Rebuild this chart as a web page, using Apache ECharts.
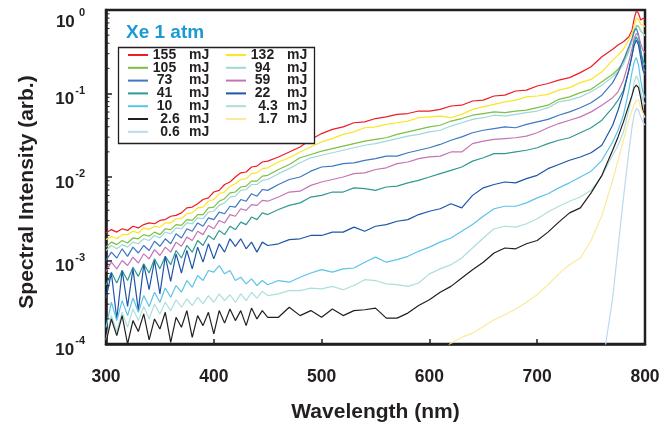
<!DOCTYPE html>
<html>
<head>
<meta charset="utf-8">
<script src="https://cdn.jsdelivr.net/npm/echarts@6/dist/echarts.min.js"></script>
<style>
html,body{margin:0;padding:0;background:#fff;}
#chart{width:671px;height:434px;}
</style>
</head>
<body>
<div id="chart"></div>
<script>
// Wavelength grid (nm)
const wavelengths = [300,305,310,315,320,325,330,335,340,345,350,355,360,365,370,375,380,385,390,395,400,405,410,415,420,425,430,435,440,445,450,
  460,470,480,490,500,510,520,530,540,550,560,570,580,590,600,610,620,630,640,650,660,670,680,690,700,710,720,730,740,750,760,770,
  775,780,785,788,790,792,794,796,798,800];

// log10 of spectral intensity (arb.), one array per pulse energy
const log155 = [-2.67,-2.63,-2.66,-2.62,-2.64,-2.59,-2.61,-2.57,-2.55,-2.56,-2.52,-2.51,-2.47,-2.46,-2.43,-2.37,-2.36,-2.32,-2.27,-2.25,-2.18,-2.16,-2.09,-2.06,-2.00,-1.95,-1.94,-1.88,-1.87,-1.82,-1.81,
  -1.76,-1.70,-1.64,-1.55,-1.48,-1.43,-1.40,-1.35,-1.34,-1.30,-1.28,-1.25,-1.24,-1.21,-1.21,-1.19,-1.15,-1.14,-1.09,-1.08,-1.03,-1.02,-0.97,-0.96,-0.91,-0.88,-0.84,-0.81,-0.75,-0.68,-0.56,-0.47,
  -0.42,-0.38,-0.32,-0.24,-0.10,-0.01,-0.04,-0.12,-0.10,-0.11];
const log132 = [-2.75,-2.71,-2.74,-2.69,-2.69,-2.65,-2.67,-2.61,-2.63,-2.59,-2.60,-2.55,-2.55,-2.50,-2.50,-2.44,-2.43,-2.37,-2.36,-2.29,-2.27,-2.20,-2.18,-2.11,-2.08,-2.03,-2.02,-1.96,-1.95,-1.90,-1.89,
  -1.82,-1.77,-1.70,-1.64,-1.58,-1.54,-1.49,-1.46,-1.41,-1.40,-1.37,-1.35,-1.33,-1.29,-1.28,-1.27,-1.29,-1.25,-1.19,-1.16,-1.13,-1.10,-1.08,-1.04,-1.03,-1.01,-0.96,-0.93,-0.87,-0.83,-0.74,-0.60,
  -0.54,-0.47,-0.36,-0.28,-0.18,-0.10,-0.11,-0.17,-0.18,-0.20];
const log105 = [-2.84,-2.78,-2.81,-2.76,-2.79,-2.73,-2.74,-2.69,-2.71,-2.66,-2.69,-2.62,-2.63,-2.57,-2.58,-2.51,-2.52,-2.45,-2.45,-2.37,-2.36,-2.29,-2.26,-2.19,-2.18,-2.12,-2.11,-2.05,-2.05,-1.99,-1.98,
  -1.91,-1.85,-1.77,-1.73,-1.69,-1.66,-1.63,-1.60,-1.57,-1.55,-1.53,-1.49,-1.46,-1.43,-1.40,-1.38,-1.33,-1.30,-1.26,-1.24,-1.22,-1.23,-1.21,-1.20,-1.17,-1.14,-1.07,-1.04,-0.99,-0.95,-0.86,-0.77,
  -0.71,-0.62,-0.48,-0.36,-0.26,-0.19,-0.20,-0.25,-0.28,-0.30];
const log94 = [-2.88,-2.82,-2.86,-2.81,-2.84,-2.78,-2.80,-2.74,-2.76,-2.70,-2.73,-2.66,-2.68,-2.61,-2.62,-2.55,-2.56,-2.49,-2.50,-2.42,-2.41,-2.34,-2.31,-2.24,-2.23,-2.16,-2.15,-2.09,-2.09,-2.04,-2.03,
  -1.96,-1.90,-1.83,-1.77,-1.74,-1.71,-1.68,-1.65,-1.62,-1.60,-1.57,-1.54,-1.51,-1.49,-1.46,-1.44,-1.39,-1.35,-1.31,-1.29,-1.26,-1.27,-1.25,-1.23,-1.21,-1.17,-1.10,-1.08,-1.04,-0.98,-0.90,-0.80,
  -0.74,-0.65,-0.50,-0.36,-0.24,-0.18,-0.19,-0.25,-0.28,-0.31];
const log73 = [-3.00,-2.90,-2.97,-2.86,-2.95,-2.84,-2.91,-2.82,-2.88,-2.77,-2.83,-2.74,-2.80,-2.68,-2.73,-2.62,-2.65,-2.55,-2.59,-2.49,-2.51,-2.42,-2.44,-2.35,-2.36,-2.27,-2.29,-2.20,-2.23,-2.15,-2.16,
  -2.09,-2.03,-2.00,-1.93,-1.88,-1.87,-1.84,-1.83,-1.80,-1.78,-1.75,-1.75,-1.71,-1.68,-1.65,-1.61,-1.56,-1.52,-1.47,-1.44,-1.42,-1.40,-1.41,-1.37,-1.34,-1.31,-1.26,-1.22,-1.17,-1.11,-1.02,-0.87,
  -0.75,-0.60,-0.44,-0.34,-0.25,-0.22,-0.30,-0.48,-0.66,-0.74];
const log59 = [-3.13,-3.02,-3.10,-3.00,-3.06,-2.96,-3.03,-2.92,-2.98,-2.87,-2.94,-2.84,-2.90,-2.78,-2.83,-2.72,-2.76,-2.65,-2.69,-2.58,-2.62,-2.52,-2.55,-2.45,-2.47,-2.38,-2.40,-2.33,-2.34,-2.28,-2.29,
  -2.24,-2.18,-2.17,-2.10,-2.06,-2.03,-2.00,-1.96,-1.95,-1.91,-1.89,-1.84,-1.82,-1.78,-1.76,-1.75,-1.70,-1.70,-1.60,-1.57,-1.55,-1.54,-1.53,-1.51,-1.47,-1.41,-1.36,-1.32,-1.28,-1.22,-1.14,-1.05,
  -0.98,-0.84,-0.62,-0.46,-0.34,-0.28,-0.31,-0.40,-0.48,-0.51];
const log41 = [-3.30,-3.14,-3.27,-3.12,-3.24,-3.08,-3.19,-3.04,-3.15,-2.98,-3.10,-2.95,-3.05,-2.88,-2.97,-2.82,-2.90,-2.76,-2.82,-2.70,-2.75,-2.64,-2.69,-2.59,-2.63,-2.54,-2.57,-2.48,-2.51,-2.43,-2.45,
  -2.39,-2.34,-2.31,-2.24,-2.22,-2.18,-2.18,-2.13,-2.14,-2.16,-2.12,-2.11,-2.07,-2.04,-2.00,-1.96,-1.92,-1.88,-1.81,-1.77,-1.72,-1.72,-1.70,-1.68,-1.65,-1.60,-1.56,-1.53,-1.47,-1.41,-1.32,-1.17,
  -1.08,-0.96,-0.72,-0.54,-0.38,-0.32,-0.38,-0.50,-0.60,-0.66];
const log22 = [-3.45,-3.15,-3.70,-3.12,-3.55,-3.10,-3.60,-3.05,-3.35,-3.00,-3.40,-2.95,-3.25,-2.92,-3.15,-2.88,-3.10,-2.84,-3.02,-2.80,-2.98,-2.80,-2.90,-2.74,-2.83,-2.74,-2.86,-2.78,-2.90,-2.78,-2.82,
  -2.80,-2.75,-2.74,-2.70,-2.70,-2.66,-2.66,-2.60,-2.65,-2.59,-2.57,-2.53,-2.51,-2.45,-2.41,-2.38,-2.32,-2.37,-2.22,-2.13,-2.09,-2.06,-2.07,-2.02,-1.98,-1.90,-1.85,-1.80,-1.76,-1.71,-1.62,-1.38,
  -1.20,-0.99,-0.72,-0.54,-0.42,-0.36,-0.42,-0.57,-0.72,-0.78];
const log10mJ = [-3.80,-3.50,-3.72,-3.48,-3.66,-3.45,-3.62,-3.42,-3.55,-3.38,-3.50,-3.33,-3.44,-3.30,-3.38,-3.24,-3.32,-3.18,-3.24,-3.12,-3.14,-3.06,-3.16,-3.12,-3.24,-3.20,-3.28,-3.22,-3.30,-3.24,-3.29,
  -3.24,-3.26,-3.20,-3.15,-3.11,-3.14,-3.10,-3.09,-3.02,-2.96,-3.02,-2.99,-2.95,-2.89,-2.84,-2.78,-2.73,-2.65,-2.57,-2.47,-2.38,-2.35,-2.35,-2.31,-2.25,-2.20,-2.13,-2.07,-2.00,-1.93,-1.80,-1.58,
  -1.44,-1.26,-0.96,-0.74,-0.62,-0.57,-0.66,-0.84,-0.98,-1.05];
const log4p3 = [-3.95,-3.66,-3.85,-3.62,-3.80,-3.58,-3.72,-3.55,-3.70,-3.52,-3.64,-3.50,-3.60,-3.47,-3.56,-3.46,-3.54,-3.44,-3.52,-3.42,-3.50,-3.40,-3.48,-3.41,-3.50,-3.40,-3.48,-3.38,-3.45,-3.37,-3.42,
  -3.40,-3.36,-3.36,-3.33,-3.34,-3.31,-3.35,-3.30,-3.23,-3.24,-3.28,-3.29,-3.31,-3.27,-3.16,-3.10,-3.05,-2.97,-2.85,-2.73,-2.62,-2.59,-2.60,-2.56,-2.50,-2.42,-2.35,-2.29,-2.24,-2.16,-1.99,-1.74,
  -1.62,-1.46,-1.20,-1.02,-0.86,-0.79,-0.84,-0.98,-1.08,-1.13];
const log2p6 = [-3.98,-3.70,-3.90,-3.66,-4.00,-3.72,-3.85,-3.64,-3.95,-3.70,-3.82,-3.62,-3.98,-3.68,-3.80,-3.60,-3.92,-3.66,-3.78,-3.62,-3.88,-3.60,-3.75,-3.58,-3.72,-3.60,-3.78,-3.57,-3.70,-3.60,-3.68,
  -3.68,-3.56,-3.66,-3.60,-3.68,-3.58,-3.66,-3.60,-3.59,-3.57,-3.69,-3.69,-3.63,-3.54,-3.47,-3.38,-3.31,-3.21,-3.11,-3.02,-2.91,-2.85,-2.86,-2.80,-2.76,-2.66,-2.54,-2.43,-2.37,-2.19,-1.98,-1.68,
  -1.52,-1.34,-1.14,-1.02,-0.93,-0.90,-0.93,-1.05,-1.20,-1.27];
// these two only rise above 1e-4 near the long-wavelength end; they start at the given wavelength
const start1p7 = 610;
const log1p7 = [-4.10,-3.99,-3.92,-3.87,-3.79,-3.71,-3.65,-3.58,-3.50,-3.41,-3.29,-3.16,-3.05,-2.97,-2.76,-2.46,-2.04,
  -1.80,-1.56,-1.32,-1.20,-1.13,-1.08,-1.08,-1.17,-1.23,-1.29];
const start0p6 = 760;
const log0p6 = [-4.30,-3.45,-2.85,-2.25,-1.70,-1.40,-1.25,-1.18,-1.20,-1.28,-1.34,-1.38];

const seriesNames = ['155 mJ','132 mJ','105 mJ','94 mJ','73 mJ','59 mJ','41 mJ','22 mJ','10 mJ','4.3 mJ','2.6 mJ','1.7 mJ','0.6 mJ'];
const seriesLogs = [log155,log132,log105,log94,log73,log59,log41,log22,log10mJ,log4p3,log2p6,log1p7,log0p6];
const seriesStarts = [300,300,300,300,300,300,300,300,300,300,300,start1p7,start0p6];
const seriesColors = ['#ee1c25','#fbe625','#7cbf45','#a0d8d8','#3c78c4','#c673b6','#2f9a93','#1e55a9','#5cc3ea','#acdfdb','#231f20','#fce99b','#bcd9ef'];

const legendCol1 = ['155 mJ','105 mJ','73 mJ','41 mJ','10 mJ','2.6 mJ','0.6 mJ'];
const legendCol2 = ['132 mJ','94 mJ','59 mJ','22 mJ','4.3 mJ','1.7 mJ'];

const yTickExponents = [0,-1,-2,-3,-4];
const xTickLabels = [300,400,500,600,700,800];
const minorMultipliers = [2,3,4,5,6,7,8,9];
const minorDecades = [-4,-3,-2,-1];

const FONT = '"Liberation Sans", Arial, Helvetica, sans-serif';
const INK = '#231f20';

const lineSeries = seriesNames.map((name, i) => {
  const offset = wavelengths.indexOf(seriesStarts[i]);
  return {
    name: name,
    type: 'line',
    showSymbol: false,
    symbol: 'none',
    clip: true,
    z: 2,
    lineStyle: { width: 1.2, color: seriesColors[i] },
    itemStyle: { color: seriesColors[i] },
    data: seriesLogs[i].map((lv, k) => [wavelengths[offset + k], Math.pow(10, lv)])
  };
});

const minorTickData = [];
minorDecades.forEach(d => minorMultipliers.forEach(m => minorTickData.push([300, m * Math.pow(10, d)])));

const legendFormatter = function (name) {
  const num = name.replace(' mJ', '');
  if (num.indexOf('.') >= 0) return '{d|' + num + '}{v|mJ}';
  return '{i|' + num + '}{u|mJ}';
};
const LF = { fontSize: 14, fontWeight: 'bold', fontFamily: FONT, color: INK, lineHeight: 12.6 };
const legendRich = {
  i: Object.assign({ width: 23, align: 'right' }, LF),
  d: Object.assign({ width: 34, align: 'right' }, LF),
  u: Object.assign({ padding: [0, 0, 0, 13] }, LF),
  v: Object.assign({ padding: [0, 0, 0, 2] }, LF)
};
function makeLegend(data, left) {
  return {
    data: data,
    orient: 'vertical',
    left: left,
    top: 48,
    padding: 0,
    itemGap: -1.2,
    itemWidth: 20,
    itemHeight: 2,
    icon: 'rect',
    selectedMode: false,
    z: 10,
    formatter: legendFormatter,
    textStyle: Object.assign({ rich: legendRich }, LF)
  };
}

const chart = echarts.init(document.getElementById('chart'), null, { renderer: 'canvas' });
chart.setOption({
  animation: false,
  backgroundColor: '#ffffff',
  title: {
    text: 'Xe 1 atm',
    left: 126, top: 23, padding: 0,
    textStyle: { color: '#1c9ad6', fontSize: 19, fontWeight: 'bold', fontFamily: FONT }
  },
  legend: [makeLegend(legendCol1, 128), makeLegend(legendCol2, 226)],
  graphic: [{
    type: 'rect', z: 8,
    shape: { x: 118.5, y: 47.5, width: 196, height: 96 },
    style: { fill: '#ffffff', stroke: INK, lineWidth: 1.3 }
  }],
  grid: { left: 106, right: 26, top: 10, bottom: 90, show: true, borderColor: INK, borderWidth: 2.5, backgroundColor: 'transparent' },
  xAxis: {
    type: 'value', min: 300, max: 800, interval: 100,
    name: 'Wavelength (nm)', nameLocation: 'middle', nameGap: 58,
    nameTextStyle: { fontSize: 21, fontWeight: 'bold', fontFamily: FONT, color: INK },
    axisLine: { show: true, lineStyle: { color: INK, width: 2.5 } },
    axisTick: { show: true, inside: true, length: 5, lineStyle: { color: INK, width: 1.5 } },
    axisLabel: {
      margin: 24, fontSize: 17.5, fontWeight: 'bold', fontFamily: FONT, color: INK,
      formatter: v => (xTickLabels.indexOf(v) >= 0 ? String(v) : '')
    },
    splitLine: { show: false }
  },
  yAxis: {
    type: 'log', logBase: 10, min: 1e-4, max: 1,
    name: 'Spectral Intensity (arb.)', nameLocation: 'middle', nameGap: 68,
    nameTextStyle: { fontSize: 21, fontWeight: 'bold', fontFamily: FONT, color: INK, padding: [0, 30, 0, 0] },
    axisLine: { show: true, lineStyle: { color: INK, width: 2.5 } },
    axisTick: { show: true, inside: true, length: 6, lineStyle: { color: INK, width: 1.5 } },
    axisLabel: {
      margin: 21, color: INK,
      formatter: function (v) {
        const e = Math.round(Math.log10(v));
        if (yTickExponents.indexOf(e) < 0) return '';
        if (e === 0) return '{bt|10}{st| 0}';
        return '{b|10}{s|' + String(e) + '}';
      },
      rich: {
        b: { fontSize: 17, fontWeight: 'bold', fontFamily: FONT, color: INK, verticalAlign: 'bottom', padding: [0, 0, -6, 0] },
        s: { fontSize: 11, fontWeight: 'bold', fontFamily: FONT, color: INK, verticalAlign: 'bottom', padding: [0, 0, 6, 1] },
        bt: { fontSize: 17, fontWeight: 'bold', fontFamily: FONT, color: INK, verticalAlign: 'bottom', padding: [12, 0, -6, 0] },
        st: { fontSize: 11, fontWeight: 'bold', fontFamily: FONT, color: INK, verticalAlign: 'bottom', padding: [12, 0, 6, 1] }
      }
    },
    splitLine: { show: false }
  },
  series: lineSeries.concat([{
    type: 'custom',
    name: 'minorTicks',
    silent: true,
    clip: false,
    z: 5,
    data: minorTickData,
    renderItem: function (params, api) {
      const p = api.coord([api.value(0), api.value(1)]);
      return { type: 'line', shape: { x1: p[0], y1: p[1], x2: p[0] + 3.5, y2: p[1] }, style: { stroke: INK, lineWidth: 1 } };
    }
  }])
});
</script>
</body>
</html>
